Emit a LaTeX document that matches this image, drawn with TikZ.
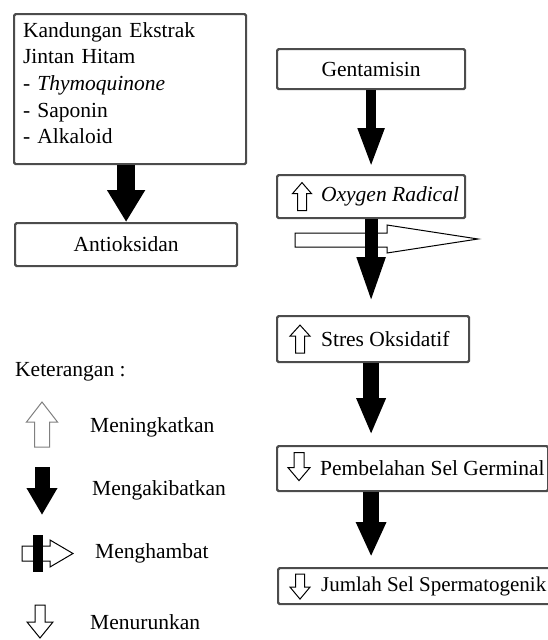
\documentclass[tikz,border=0pt]{standalone}
\usepackage{fontspec}
\setmainfont{Liberation Serif}
\usetikzlibrary{arrows.meta, positioning}

\tikzset{
  box/.style={draw=black!70, line width=2.2pt, rounded corners=1.5pt, fill=white, inner sep=0pt, anchor=north west},
  legtext/.style={anchor=west, inner sep=0pt},
  causearrow/.style n args={3}{line width=#1pt, -{Triangle[width=#2pt, length=#3pt]}},
  pics/openup/.style n args={4}{code={
    \draw[line width=1pt, fill=white] (0,0) -- (#1/2,#2) -- (#3/2,#2) -- (#3/2,#4)
      -- (-#3/2,#4) -- (-#3/2,#2) -- (-#1/2,#2) -- cycle;
  }}
}
\newcommand{\boxtext}[3]{\makebox[#1][l]{\hspace*{#2}#3}}

\begin{document}
\begin{tikzpicture}[x=1pt, y=-1pt, font=\fontsize{21.5}{26.7}\selectfont]
  \useasboundingbox (0,0) rectangle (547,640);

  % left column
  \node[box, text width=214pt, align=left, inner xsep=9pt, inner ysep=8pt,
        text height=15pt, text depth=119pt] (ekstrak) at (13,13)
    {Kandungan Ekstrak\\Jintan Hitam\\- \textit{Thymoquinone}\\- Saponin\\- Alkaloid};
  \node[box, minimum width=222pt, minimum height=43pt] (antiok) at (14,222) {Antioksidan};

  % right column
  \node[box, minimum width=188pt, minimum height=40pt] (gent) at (276,48) {Gentamisin};
  \node[box, minimum height=43pt] (oxy) at (276,174) {\boxtext{188pt}{44pt}{\textit{Oxygen Radical}}};
  \node[box, minimum height=46pt] (stres) at (276,315) {\boxtext{192pt}{44pt}{Stres Oksidatif}};
  \node[box, minimum height=45pt] (pemb) at (276,445) {\boxtext{271pt}{43pt}{Pembelahan Sel Germinal}};
  \node[box, minimum height=36pt] (jumlah) at (277,567)
    {\boxtext{300pt}{43pt}{\fontsize{21}{26}\selectfont Jumlah Sel Spermatogenik}};

  % icons in the boxes
  \pic at ([xshift=26pt, yshift=14pt]oxy.west) {openup={19}{11}{9}{28}};
  \pic at ([xshift=24pt, yshift=14pt]stres.west) {openup={20}{11}{9}{28}};
  \pic[yscale=-1] at ([xshift=23pt, yshift=-12pt]pemb.west) {openup={22}{13}{10}{28}};
  \pic[yscale=-1] at ([xshift=23pt, yshift=-13pt]jumlah.west) {openup={20}{12}{9}{25}};

  % inhibition
  \draw[line width=1pt, fill=white] (295,233) -- (387,233) -- (387,225) -- (478,239)
    -- (387,253) -- (387,247) -- (295,247) -- cycle;

  % connectors
  \draw[causearrow={18}{36}{32}] (antiok.north |- ekstrak.south) -- (antiok.north);
  \draw[causearrow={10}{24}{40}, shorten >=6pt] (gent.south) -- (gent.south |- oxy.north);
  \draw[causearrow={13}{25}{48}, shorten >=10pt] (oxy.south) -- (oxy.south |- stres.north);
  \draw[causearrow={16}{27}{37}, shorten >=10pt] (oxy.south |- stres.south) -- (oxy.south |- pemb.north);
  \draw[causearrow={16}{28}{35}, shorten >=10pt] (oxy.south |- pemb.south) -- (oxy.south |- jumlah.north);

  % legend
  \node[legtext] (ket) at (15,372) {Keterangan :};
  \pic[color=gray] at (42,402) {openup={31}{20}{15}{45}};
  \node[legtext] (naik) at (90,427) {Meningkatkan};
  \coordinate (akibat1) at (42,467);
  \coordinate (akibat2) at (42,515);
  \draw[causearrow={15}{29}{27}] (akibat1) -- (akibat2);
  \node[legtext] (akibat) at (92,490) {Mengakibatkan};
  \draw[line width=1pt, fill=white] (22,546) -- (50,546) -- (50,540) -- (73,553.5)
    -- (50,567) -- (50,561) -- (22,561) -- cycle;
  \fill (33,535) rectangle (43,572);
  \node[legtext] (hambat) at (95,553) {Menghambat};
  \pic[yscale=-1] at (40,638) {openup={26}{16}{10}{33}};
  \node[legtext] (turun) at (90,622) {Menurunkan};
\end{tikzpicture}
\end{document}
